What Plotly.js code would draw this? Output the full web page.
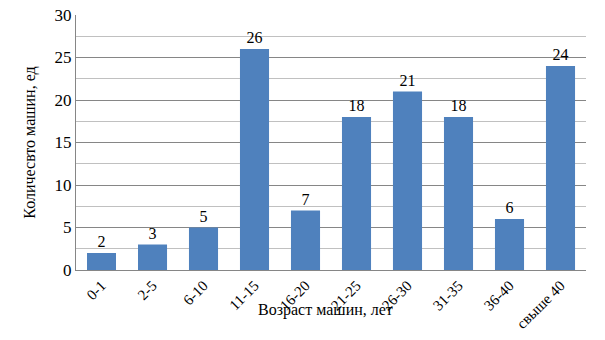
<!DOCTYPE html>
<html><head><meta charset="utf-8">
<script src="https://cdn.plot.ly/plotly-3.0.1.min.js"></script>
<style>html,body{margin:0;padding:0;background:#fff}</style>
</head><body>
<div id="chart" style="width:605px;height:340px"></div>
<script>
const categories = ['0-1','2-5','6-10','11-15','16-20','21-25','26-30','31-35','36-40','свыше 40'];
const counts = [2,3,5,26,7,18,21,18,6,24];
const yTicks = [0,5,10,15,20,25,30];
const xTitle = 'Возраст машин, лет';
const yTitle = 'Количесвто машин, ед';

const font = '"Liberation Serif", "Times New Roman", serif';
Plotly.newPlot('chart', [{
  type: 'bar', x: categories, y: counts,
  marker: {color: '#4f81bd'},
  text: counts.map(String), textposition: 'outside', cliponaxis: false,
  textfont: {family: font, size: 16, color: '#000'},
  width: 0.57
}], {
  width: 605, height: 340,
  margin: {l: 76, r: 19, t: 15, b: 70},
  paper_bgcolor: '#fff', plot_bgcolor: '#fff',
  showlegend: false,
  font: {family: font, color: '#000'},
  xaxis: {
    tickangle: -45, tickfont: {family: font, size: 15, color: '#000'},
    showline: true, linecolor: '#868686', linewidth: 1,
    ticks: '', showgrid: false
  },
  yaxis: {
    range: [0, 30], tickvals: yTicks, tickfont: {family: font, size: 17, color: '#000'},
    showline: true, linecolor: '#868686', linewidth: 1,
    gridcolor: '#868686', gridwidth: 1, zeroline: false,
    minor: {dtick: 2.5, showgrid: true, gridcolor: '#c0c0c0', gridwidth: 1},
    ticks: '', ticklen: 0,
    title: {text: yTitle, font: {family: font, size: 16, color: '#000'}, standoff: 14}
  },
  annotations: [{
    text: xTitle, xref: 'paper', yref: 'paper', x: 0.49, y: -0.155,
    xanchor: 'center', yanchor: 'middle', showarrow: false,
    font: {family: font, size: 16, color: '#000'}
  }]
}, {displayModeBar: false, staticPlot: true});
</script>
</body></html>
